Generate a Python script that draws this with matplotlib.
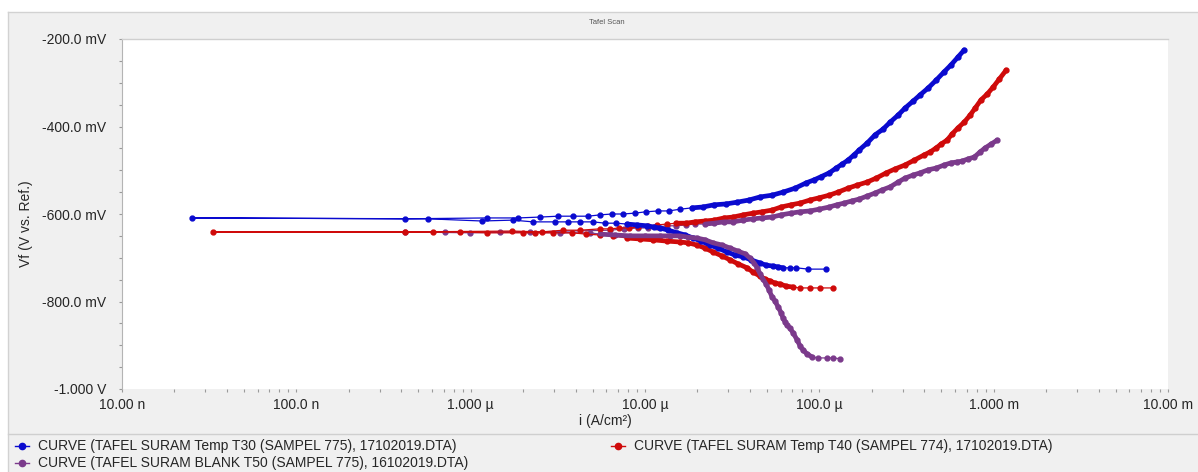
import matplotlib
matplotlib.use("Agg")
import matplotlib.pyplot as plt
import numpy as np
from matplotlib.lines import Line2D
from matplotlib.patches import Rectangle
from matplotlib.ticker import FixedLocator, FixedFormatter, LogLocator, MultipleLocator, FuncFormatter

plt.rcParams['font.family'] = ['Liberation Sans', 'DejaVu Sans']

# ---------------- data (current in A/cm², potential in mV) ----------------
series_names = [
    "CURVE (TAFEL SURAM Temp T30 (SAMPEL 775), 17102019.DTA)",
    "CURVE (TAFEL SURAM Temp T40 (SAMPEL 774), 17102019.DTA)",
    "CURVE (TAFEL SURAM BLANK T50 (SAMPEL 775), 16102019.DTA)",
]

# T30 (blue)
t30_cat_i = [1.16e-6, 1.75e-6, 2.28e-6, 3.05e-6, 3.62e-6, 4.25e-6, 5.04e-6, 5.90e-6, 6.82e-6, 7.88e-6,
             9.02e-6, 1.03e-5, 1.13e-5, 1.22e-5, 1.36e-5, 1.53e-5, 1.70e-5, 1.89e-5, 2.10e-5, 2.36e-5,
             2.62e-5, 2.96e-5, 3.29e-5, 3.66e-5, 4.07e-5, 4.57e-5, 4.95e-5, 5.43e-5, 5.81e-5, 6.19e-5,
             6.79e-5, 7.36e-5, 8.63e-5, 1.09e-4]
t30_cat_E = [-616, -614, -618, -618, -618, -618, -618, -621, -621, -623,
             -625, -627, -630, -632, -637, -643, -648, -655, -662, -671,
             -678, -687, -694, -698, -705, -712, -717, -719, -721, -723,
             -723, -723, -726, -726]
t30_near_i = [5.70e-7, 2.52e-8, 4.22e-7]
t30_near_E = [-611, -609, -611]
t30_an_i = [1.24e-6, 1.87e-6, 2.50e-6, 3.17e-6, 3.86e-6, 4.72e-6, 5.52e-6, 6.47e-6, 7.48e-6, 8.77e-6,
            1.01e-5, 1.19e-5, 1.37e-5, 1.59e-5, 1.86e-5, 2.15e-5, 2.49e-5, 2.92e-5, 3.37e-5, 3.95e-5,
            4.57e-5, 5.36e-5, 6.19e-5, 7.26e-5, 8.39e-5, 9.33e-5, 1.02e-4, 1.14e-4, 1.25e-4, 1.35e-4,
            1.46e-4, 1.58e-4, 1.69e-4, 1.88e-4, 2.09e-4, 2.32e-4, 2.55e-4, 2.83e-4, 3.10e-4, 3.45e-4,
            3.78e-4, 4.21e-4, 4.68e-4, 5.20e-4, 5.70e-4, 6.25e-4, 6.78e-4]
t30_an_E = [-609, -609, -607, -605, -605, -605, -602, -600, -600, -598,
            -595, -593, -593, -589, -586, -584, -579, -577, -573, -568,
            -561, -557, -550, -541, -529, -522, -515, -506, -495, -486,
            -477, -465, -454, -438, -419, -406, -390, -374, -358, -342,
            -328, -312, -294, -275, -259, -241, -225]

# T40 (red)
t40_cat_i = [6.08e-7, 8.69e-7, 1.24e-6, 2.00e-6, 2.34e-6, 2.97e-6, 3.82e-6, 4.59e-6, 5.52e-6, 6.56e-6,
             7.88e-6, 9.38e-6, 1.11e-5, 1.34e-5, 1.59e-5, 1.77e-5, 1.99e-5, 2.21e-5, 2.46e-5, 2.77e-5,
             3.08e-5, 3.42e-5, 3.85e-5, 4.17e-5, 4.57e-5, 4.89e-5, 5.22e-5, 5.57e-5, 5.96e-5, 6.45e-5,
             7.08e-5, 7.76e-5, 8.85e-5, 1.01e-4, 1.20e-4]
t40_cat_E = [-641, -641, -643, -643, -643, -643, -643, -646, -648, -650,
             -655, -657, -659, -662, -664, -666, -671, -678, -687, -696,
             -705, -714, -723, -733, -742, -749, -753, -758, -760, -765,
             -767, -769, -769, -769, -769]
t40_near_i = [3.33e-8, 4.22e-7, 1.73e-6, 2.57e-6]
t40_near_E = [-641, -641, -639, -641]
t40_an_i = [3.39e-6, 4.25e-6, 5.52e-6, 6.31e-6, 7.10e-6, 8.11e-6, 9.12e-6, 1.04e-5, 1.17e-5, 1.34e-5,
            1.51e-5, 1.72e-5, 1.94e-5, 2.21e-5, 2.49e-5, 2.84e-5, 3.20e-5, 3.66e-5, 4.17e-5, 4.70e-5,
            5.36e-5, 6.04e-5, 6.89e-5, 7.76e-5, 8.85e-5, 9.97e-5, 1.14e-4, 1.28e-4, 1.46e-4, 1.65e-4,
            1.88e-4, 2.12e-4, 2.42e-4, 2.72e-4, 3.10e-4, 3.50e-4, 3.99e-4, 4.33e-4, 4.68e-4, 5.00e-4,
            5.41e-4, 5.78e-4, 6.25e-4, 6.78e-4, 7.33e-4, 7.83e-4, 8.47e-4, 9.18e-4, 9.93e-4, 1.08e-3,
            1.18e-3]
t40_an_E = [-637, -637, -634, -634, -632, -632, -630, -627, -625, -623,
            -621, -621, -618, -616, -614, -609, -607, -602, -598, -595,
            -591, -584, -579, -575, -568, -563, -557, -550, -541, -534,
            -527, -518, -506, -497, -488, -477, -465, -458, -449, -440,
            -431, -417, -403, -390, -374, -358, -339, -326, -310, -291,
            -271]

# BLANK T50 (purple)
t50_cat_i = [5.52e-6, 6.73e-6, 8.22e-6, 1.00e-5, 1.22e-5, 1.39e-5, 1.59e-5, 1.77e-5, 1.99e-5, 2.21e-5,
             2.46e-5, 2.77e-5, 3.08e-5, 3.42e-5, 3.75e-5, 4.01e-5, 4.23e-5, 4.40e-5, 4.57e-5, 4.76e-5,
             4.95e-5, 5.15e-5, 5.36e-5, 5.57e-5, 5.81e-5, 6.04e-5, 6.19e-5, 6.37e-5, 6.53e-5, 6.79e-5,
             7.08e-5, 7.46e-5, 7.76e-5, 8.07e-5, 8.51e-5, 9.10e-5, 9.84e-5, 1.11e-4, 1.20e-4, 1.32e-4]
t50_cat_E = [-646, -648, -650, -650, -650, -650, -650, -653, -655, -659,
             -666, -671, -678, -685, -691, -701, -712, -723, -737, -749,
             -760, -774, -790, -799, -813, -826, -838, -847, -854, -861,
             -872, -888, -902, -911, -920, -927, -929, -929, -929, -931]
t50_near_i = [4.84e-6, 3.26e-6, 1.48e-6, 7.13e-7, 4.20e-7, 9.93e-7, 2.19e-6]
t50_near_E = [-643, -643, -641, -641, -641, -643, -641]
t50_an_i = [6.31e-6, 7.58e-6, 9.12e-6, 1.04e-5, 1.17e-5, 1.34e-5, 1.51e-5, 1.72e-5, 1.94e-5, 2.21e-5,
            2.49e-5, 2.84e-5, 3.20e-5, 3.66e-5, 4.17e-5, 4.70e-5, 5.36e-5, 6.04e-5, 6.89e-5, 7.76e-5,
            8.85e-5, 9.97e-5, 1.14e-4, 1.26e-4, 1.39e-4, 1.54e-4, 1.69e-4, 1.88e-4, 2.09e-4, 2.29e-4,
            2.55e-4, 2.83e-4, 3.10e-4, 3.45e-4, 3.78e-4, 4.21e-4, 4.68e-4, 5.20e-4, 5.70e-4, 6.18e-4,
            6.59e-4, 7.14e-4, 7.73e-4, 8.37e-4, 8.93e-4, 9.68e-4, 1.05e-3]
t50_an_E = [-637, -634, -632, -632, -630, -627, -627, -625, -623, -623,
            -621, -618, -618, -614, -611, -609, -607, -602, -598, -595,
            -593, -589, -584, -579, -575, -570, -566, -559, -552, -545,
            -538, -527, -518, -511, -506, -499, -495, -488, -483, -481,
            -479, -474, -470, -458, -449, -440, -431]

x_tick_values = [1e-8, 1e-7, 1e-6, 1e-5, 1e-4, 1e-3, 1e-2]
x_tick_labels = ["10.00 n", "100.0 n", "1.000 µ", "10.00 µ", "100.0 µ", "1.000 m", "10.00 m"]
y_tick_values = [-200, -400, -600, -800, -1000]
y_tick_labels = ["-200.0 mV", "-400.0 mV", "-600.0 mV", "-800.0 mV", "-1.000 V"]

# ---------------- style ----------------
colors = ["#0a0acf", "#cf0a0a", "#7b3a8b"]
thick_cat = [(9, 30), (10, 31), (0, 36)]
thick_an = [(14, None), (10, None), (9, None)]
z_thin = [5, 4, 3]
z_thick = [5, 4, 6]

W, H = 1198, 472
fig = plt.figure(figsize=(W / 100, H / 100), dpi=100, facecolor="white")

def fx(px):
    return px / W

def fy(py):
    return 1 - py / H

# gray panel
fig.add_artist(Rectangle((fx(8), 0), 1 - fx(8), fy(12), transform=fig.transFigure,
                         facecolor="#f0f0f0", edgecolor="none", zorder=0))
fig.add_artist(Line2D([fx(8), 1], [fy(12), fy(12)], transform=fig.transFigure, color="#d2d2d2", lw=1.0))
fig.add_artist(Line2D([fx(8), fx(8)], [0, fy(12)], transform=fig.transFigure, color="#d2d2d2", lw=1.0))
fig.add_artist(Line2D([fx(8), 1], [fy(434), fy(434)], transform=fig.transFigure, color="#cfcfcf", lw=1.0))

ax = fig.add_axes([fx(122), fy(389), fx(1168) - fx(122), fy(39) - fy(389)])
ax.set_facecolor("white")
ax.set_xscale("log")
ax.set_xlim(1e-8, 1e-2)
ax.set_ylim(-1000, -200)

data = [
    (t30_cat_i, t30_cat_E, t30_near_i, t30_near_E, t30_an_i, t30_an_E),
    (t40_cat_i, t40_cat_E, t40_near_i, t40_near_E, t40_an_i, t40_an_E),
    (t50_cat_i, t50_cat_E, t50_near_i, t50_near_E, t50_an_i, t50_an_E),
]

for k, (ci, cE, ni, nE, ai, aE) in enumerate(data):
    col = colors[k]
    full_i = list(ci[::-1]) + list(ni) + list(ai)
    full_E = list(cE[::-1]) + list(nE) + list(aE)
    ax.plot(full_i, full_E, color=col, lw=0.9, marker="o", ms=3.5, mec=col, mfc=col,
            zorder=z_thin[k], solid_joinstyle="round")
    c0, c1 = thick_cat[k]
    ax.plot(ci[c0:c1], cE[c0:c1], color=col, lw=3.4, solid_capstyle="round", zorder=z_thick[k])
    a0, a1 = thick_an[k]
    ax.plot(ai[a0:a1], aE[a0:a1], color=col, lw=3.4, solid_capstyle="round", zorder=z_thick[k])

# axes styling
for s in ["right", "bottom"]:
    ax.spines[s].set_visible(False)
ax.spines["left"].set_color("#b4b4b4")
ax.spines["top"].set_color("#cfcfcf")
ax.spines["left"].set_linewidth(0.8)
ax.spines["top"].set_linewidth(1.0)

ax.xaxis.set_major_locator(FixedLocator(x_tick_values))
ax.xaxis.set_major_formatter(FixedFormatter(x_tick_labels))
ax.xaxis.set_minor_locator(LogLocator(base=10, subs=np.arange(2, 10), numticks=20))
ax.xaxis.set_minor_formatter(FuncFormatter(lambda v, p: ""))
ax.yaxis.set_major_locator(FixedLocator(y_tick_values))
ax.yaxis.set_major_formatter(FixedFormatter(y_tick_labels))
ax.yaxis.set_minor_locator(MultipleLocator(50))

ax.tick_params(axis="x", which="both", direction="out", length=2.2, width=0.8,
               color="#9a9a9a", labelsize=10, labelcolor="#262626", pad=4.5)
ax.tick_params(axis="y", which="both", direction="out", length=2.5, width=0.8,
               color="#9a9a9a", labelsize=10, labelcolor="#262626", pad=9)

fig.text(fx(607), fy(23), "Tafel Scan", ha="center", va="center", fontsize=5.5, color="#555555")
fig.text(fx(605), fy(421), "i (A/cm²)", ha="center", va="center", fontsize=10, color="#262626")
fig.text(fx(26), fy(224), "Vf (V vs. Ref.)", ha="center", va="center", rotation=90,
         fontsize=10, color="#262626")

# legend
legend_pos = [(15, 446), (611, 446), (15, 463)]
for k, name in enumerate(series_names):
    x0, y0 = legend_pos[k]
    fig.add_artist(Line2D([fx(x0), fx(x0 + 7), fx(x0 + 14)], [fy(y0)] * 3, transform=fig.transFigure,
                          color=colors[k], lw=1.0, marker="o", ms=4.5, markevery=[1]))
    fig.text(fx(x0 + 23), fy(y0), name, ha="left", va="center", fontsize=10, color="#262626")

fig.savefig("out.png", dpi=100, facecolor="white")
